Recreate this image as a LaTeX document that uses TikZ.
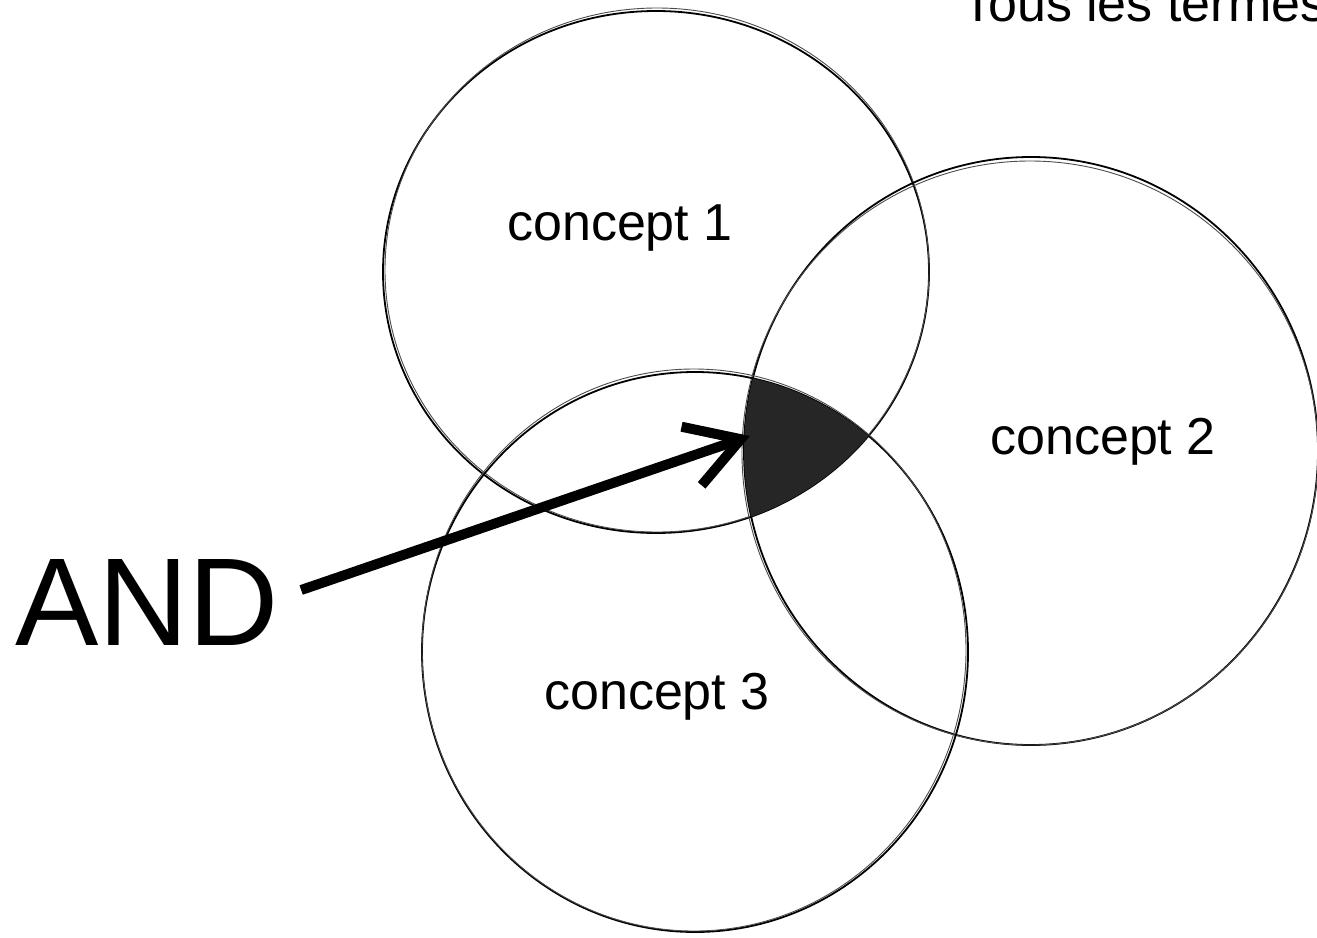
\documentclass[tikz,border=0pt]{standalone}
\usepackage{fontspec}
\setmainfont{Liberation Sans}
\usetikzlibrary{arrows.meta}
\begin{document}
\begin{tikzpicture}[x=1pt,y=-1pt,
  ring/.style={draw=black,line width=1.8pt},
  ringb/.style={draw=black!70,line width=0.9pt},
  lbl/.style={font=\fontsize{52}{60}\selectfont,inner sep=0pt},
  bigl/.style={font=\fontsize{125}{140}\selectfont,inner sep=0pt},
  thick arrow/.style={line width=10pt,-{Straight Barb[length=52pt,width=62pt,line width=10pt]}}]
\useasboundingbox[fill=white] (0,0) rectangle (1317,937);
% circles
\draw[ring] (656,272) ellipse [x radius=273,y radius=261];
\draw[ringb] (657,270) ellipse [x radius=272,y radius=262];
\draw[ring] (1031,451) ellipse [x radius=287,y radius=294];
\draw[ringb] (1030,453) ellipse [x radius=288,y radius=292];
\draw[ring] (695,652) ellipse [x radius=273,y radius=280];
\draw[ringb] (694,650) ellipse [x radius=272,y radius=281];
% intersection of all three
\begin{scope}
  \clip (656,272) ellipse [x radius=273,y radius=261];
  \clip (1031,451) ellipse [x radius=287,y radius=294];
  \fill[black!85] (695,652) ellipse [x radius=273,y radius=280];
\end{scope}
\coordinate (tip) at (750,436);
% labels
\node[lbl] (c1) at (620,228) {concept 1};
\node[lbl] (c2) at (1103,442) {concept 2};
\node[lbl] (c3) at (657,697) {concept 3};
\node[lbl,anchor=base west] (top) at (962,21) {Tous les termes};
\node[bigl] (and) at (147,602) {AND};
\draw[thick arrow] (and.east) ++(22,-12) coordinate (as) (as) -- (tip);
\end{tikzpicture}
\end{document}
